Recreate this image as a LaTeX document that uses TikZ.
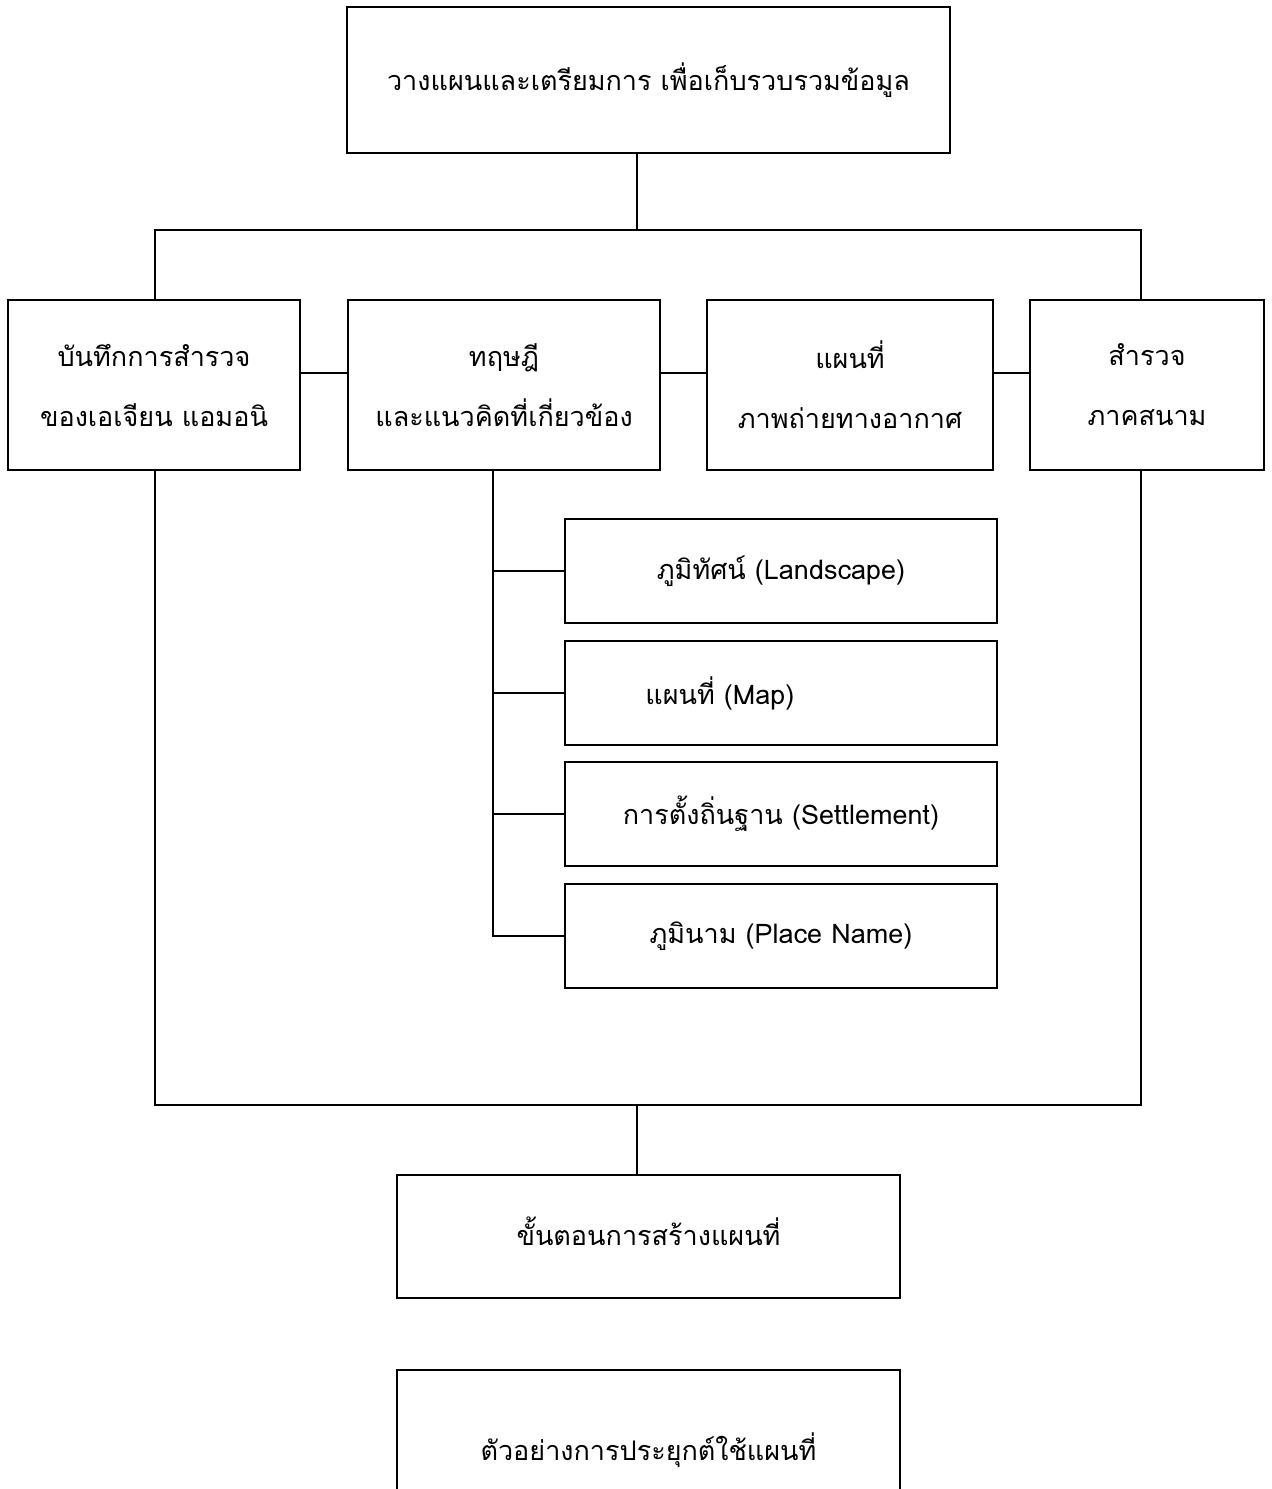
\documentclass[tikz,border=0pt]{standalone}
\usepackage{fontspec}
\newfontfamily\thaifont[Script=Thai]{Loma}
\begin{document}
\begin{tikzpicture}[x=0.5pt,y=-0.5pt,
  box/.style={draw, line width=0.9pt, rectangle, inner sep=0pt, align=center,
    font=\thaifont\fontsize{13.5}{30}\selectfont},
  wire/.style={draw, line width=0.9pt},
  txt/.style={inner sep=0pt, font=\thaifont\fontsize{13.5}{30}\selectfont}]
\useasboundingbox (0,0) rectangle (1271,1489);
\clip (0,0) rectangle (1271,1489);
% top
\node[box, minimum width=301.5pt, minimum height=73pt] (top) at (648.5,80)
  {\raisebox{2.5pt}{วางแผนและเตรียมการ เพื่อเก็บรวบรวมข้อมูล}};
% row
\node[box, minimum width=146pt, minimum height=85pt] (b1) at (154,385)
  {บันทึกการสำรวจ\\ของเอเจียน แอมอนิ};
\node[box, minimum width=156pt, minimum height=85pt] (b2) at (504,385)
  {ทฤษฎี\\และแนวคิดที่เกี่ยวข้อง};
\node[box, minimum width=143pt, minimum height=85pt] (b3) at (850,385)
  {แผนที่\\ภาพถ่ายทางอากาศ};
\node[box, minimum width=117pt, minimum height=85pt] (b4) at (1147,385)
  {สำรวจ\\ภาคสนาม};
% sub boxes
\node[box, minimum width=216pt, minimum height=52pt] (s1) at (781,571)
  {ภูมิทัศน์ (Landscape)};
\node[box, minimum width=216pt, minimum height=52pt] (s2) at (781,693) {};
\node[txt, anchor=west] (s2t) at (645,693) {แผนที่ (Map)};
\node[box, minimum width=216pt, minimum height=52pt] (s3) at (781,814)
  {การตั้งถิ่นฐาน (Settlement)};
\node[box, minimum width=216pt, minimum height=52pt] (s4) at (781,936)
  {ภูมินาม (Place Name)};
% bottom
\node[box, minimum width=251.5pt, minimum height=61.5pt] (steps) at (648.5,1236.5)
  {\raisebox{5pt}{ขั้นตอนการสร้างแผนที่}};
\node[box, minimum width=251.5pt, minimum height=80pt] (ex) at (648.5,1450)
  {\raisebox{2pt}{ตัวอย่างการประยุกต์ใช้แผนที่}};
% coordinates
\coordinate (ct) at (637,230);
\coordinate (hl) at (155,230);
\coordinate (hr) at (1141,230);
\coordinate (bl) at (155,1105);
\coordinate (br) at (1141,1105);
\coordinate (cb) at (637,1105);
\coordinate (cy) at (0,373);
\coordinate (sv) at (493,0);
% connectors
\draw[wire] (ct |- top.south) -- (ct);
\draw[wire] (b1.north -| hl) -- (hl) -- (hr) -- (b4.north -| hr);
\draw[wire] (b1.east |- cy) -- (b2.west |- cy);
\draw[wire] (b2.east |- cy) -- (b3.west |- cy);
\draw[wire] (b3.east |- cy) -- (b4.west |- cy);
\draw[wire] (b1.south -| bl) -- (bl) -- (br) -- (b4.south -| br);
\draw[wire] (cb) -- (cb |- steps.north);
\draw[wire] (sv |- b2.south) -- (sv |- s4.west) -- (s4.west);
\draw[wire] (sv |- s1.west) -- (s1.west);
\draw[wire] (sv |- s2.west) -- (s2.west);
\draw[wire] (sv |- s3.west) -- (s3.west);
\end{tikzpicture}
\end{document}
